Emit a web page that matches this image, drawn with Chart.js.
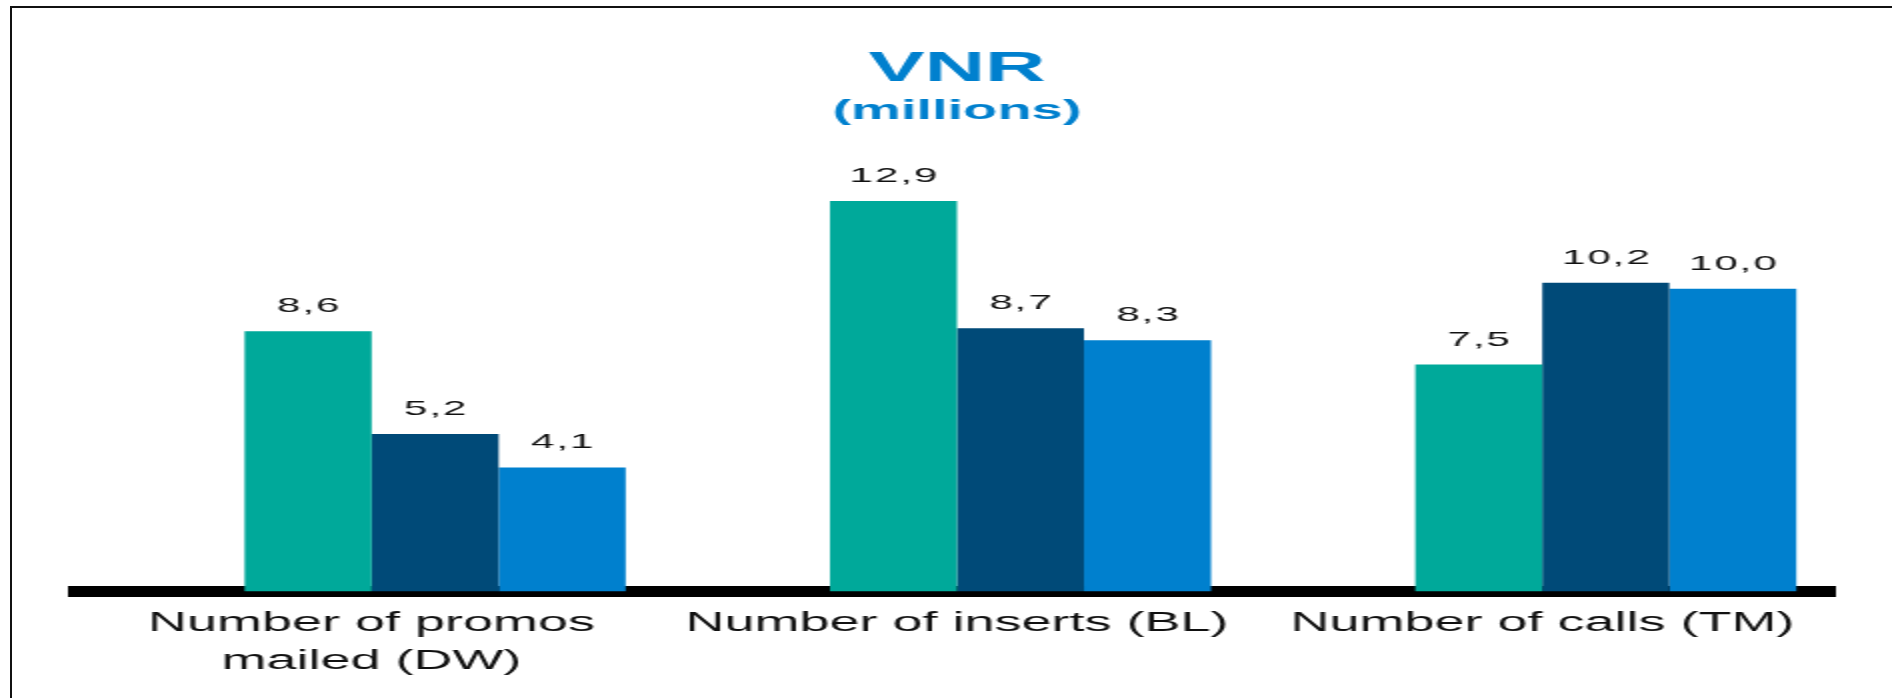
<!DOCTYPE html>
<html>
<head>
<meta charset="utf-8">
<script src="https://cdn.jsdelivr.net/npm/chart.js@4/dist/chart.umd.min.js"></script>
<style>
  html, body { margin: 0; padding: 0; background: #fff; }
  .wrap { position: relative; width: 1892px; height: 698px; overflow: hidden; }
  .frame {
    position: absolute; left: 10px; top: 6px; right: 0; bottom: 0;
    border-top: 2px solid #111; border-left: 2px solid #111;
    pointer-events: none;
  }
</style>
</head>
<body>
<div class="wrap">
  <canvas id="vnr" width="946" height="698" style="display:block;width:1892px;height:698px"></canvas>
  <div class="frame"></div>
</div>
<script>
// categories and values
const categories = [['Number of promos', 'mailed (DW)'], 'Number of inserts (BL)', 'Number of calls (TM)'];
const series1 = [8.6, 12.9, 7.5];
const series2 = [5.2, 8.7, 10.2];
const series3 = [4.1, 8.3, 10.0];
const seriesColors = ['#00a99a', '#004a78', '#0080ce'];

const FONT = '"Liberation Sans", Arial, Helvetica, sans-serif';

// the slide text is stretched wide, so the canvas is drawn at half width and scaled by css
const valueLabels = {
  id: 'valueLabels',
  afterDatasetsDraw(chart) {
    const ctx = chart.ctx;
    ctx.save();
    ctx.font = '21px ' + FONT;
    ctx.fillStyle = '#111';
    ctx.textAlign = 'center';
    ctx.textBaseline = 'alphabetic';
    if ('letterSpacing' in ctx) ctx.letterSpacing = '1px';
    chart.data.datasets.forEach((ds, i) => {
      if (ds.spacer) return;
      chart.getDatasetMeta(i).data.forEach((bar, j) => {
        const v = ds.data[j];
        ctx.fillText(v.toFixed(1).replace('.', ','), bar.x + 0.5, bar.y - 19);
      });
    });
    ctx.restore();
  }
};

new Chart(document.getElementById('vnr'), {
  type: 'bar',
  data: {
    labels: categories,
    datasets: [
      // empty slot in front of each group, as in the original slide
      { label: '', data: [null, null, null], backgroundColor: 'rgba(0,0,0,0)', spacer: true },
      { label: 'Series 1', data: series1, backgroundColor: seriesColors[0] },
      { label: 'Series 2', data: series2, backgroundColor: seriesColors[1] },
      { label: 'Series 3', data: series3, backgroundColor: seriesColors[2] }
    ]
  },
  options: {
    responsive: false,
    devicePixelRatio: 1,
    animation: false,
    layout: { padding: { left: 39.5, right: 28.5, top: 0, bottom: 4.9 } },
    datasets: { bar: { barPercentage: 1, categoryPercentage: 0.868 } },
    plugins: {
      legend: { display: false },
      tooltip: { enabled: false },
      title: {
        display: true,
        text: 'VNR',
        color: '#0080ce',
        font: { family: FONT, size: 42, weight: 'bold', lineHeight: 1 },
        padding: { top: 48, bottom: 0 }
      },
      subtitle: {
        display: true,
        text: '(millions)',
        color: '#0080ce',
        font: { family: FONT, size: 28, weight: 'bold', lineHeight: 1 },
        padding: { top: 7, bottom: 12.5 }
      }
    },
    scales: {
      x: {
        z: 1,
        grid: { display: false, drawTicks: false, lineWidth: 0 },
        border: { display: true, color: '#000', width: 11 },
        ticks: {
          color: '#111',
          font: { family: FONT, size: 27, lineHeight: 1.4 },
          padding: 13,
          autoSkip: false,
          maxRotation: 0
        }
      },
      y: {
        display: false,
        min: 0,
        max: 15
      }
    }
  },
  plugins: [valueLabels]
});
</script>
</body>
</html>
